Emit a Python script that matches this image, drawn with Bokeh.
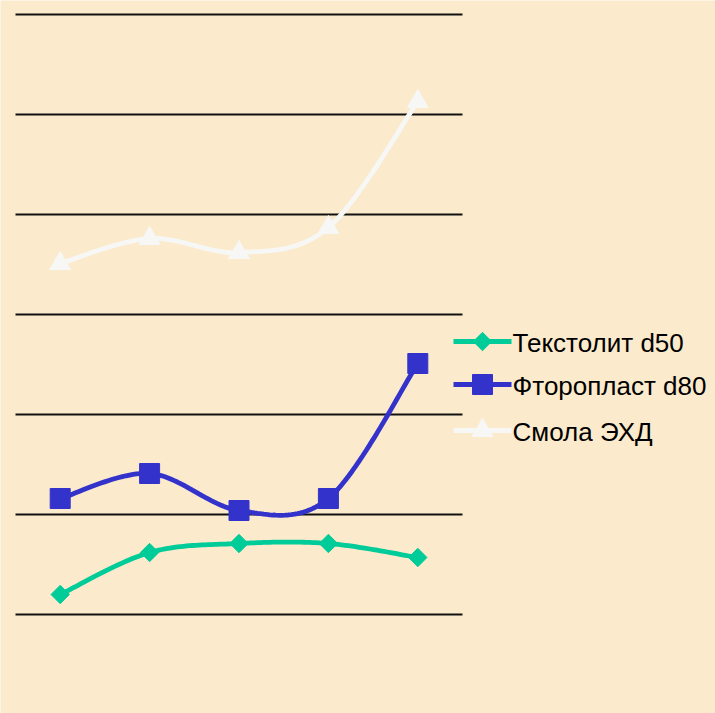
import numpy as np
from bokeh.plotting import figure
from bokeh.models import Range1d
from bokeh.core.properties import value
from bokeh.embed import file_html
from bokeh.resources import INLINE

categories = [1, 2, 3, 4, 5]
tekstolit = [0.20, 0.62, 0.71, 0.71, 0.57]
ftoroplast = [1.16, 1.41, 1.04, 1.16, 2.51]
smola = [3.51, 3.76, 3.62, 3.87, 5.13]
names = ["Текстолит d50", "Фторопласт d80", "Смола ЭХД"]
colors = ["#00CC99", "#3333CC", "#F7F7F5"]
grid_ticks = [0, 1, 2, 3, 4, 5, 6]

BG = "#FBEACB"


def smooth(xs, ys, n=30):
    xs = np.asarray(xs, float)
    ys = np.asarray(ys, float)
    px = np.concatenate([[xs[0]], xs, [xs[-1]]])
    py = np.concatenate([[ys[0]], ys, [ys[-1]]])
    ox, oy = [], []
    for i in range(len(xs) - 1):
        p0x, p1x, p2x, p3x = px[i], px[i + 1], px[i + 2], px[i + 3]
        p0y, p1y, p2y, p3y = py[i], py[i + 1], py[i + 2], py[i + 3]
        c1x = p1x + (p2x - p0x) / 6
        c1y = p1y + (p2y - p0y) / 6
        c2x = p2x - (p3x - p1x) / 6
        c2y = p2y - (p3y - p1y) / 6
        t = np.linspace(0, 1, n)
        bx = (1 - t) ** 3 * p1x + 3 * (1 - t) ** 2 * t * c1x + 3 * (1 - t) * t ** 2 * c2x + t ** 3 * p2x
        by = (1 - t) ** 3 * p1y + 3 * (1 - t) ** 2 * t * c1y + 3 * (1 - t) * t ** 2 * c2y + t ** 3 * p2y
        ox.extend(bx.tolist())
        oy.extend(by.tolist())
    return ox, oy


PXX = 89.4   # pixels per category step
PXY = 100.0  # pixels per unit


def sx(px):
    return 0.5 + (px - 15) / PXX


def sy(py):
    return 6 - (py - 14) / PXY


p = figure(width=715, height=713, output_backend="svg", toolbar_location=None,
           x_range=Range1d(sx(0), sx(715)), y_range=Range1d(sy(713), sy(0)),
           min_border=0)
p.background_fill_color = BG
p.border_fill_color = BG
p.outline_line_color = None
p.xaxis.visible = False
p.yaxis.visible = False
p.xgrid.visible = False
p.ygrid.visible = False

# horizontal grid lines spanning the plot area only
p.segment(x0=[0.5] * len(grid_ticks), x1=[5.5] * len(grid_ticks), y0=grid_ticks, y1=grid_ticks,
          line_color="#111111", line_width=2)


def draw_marker(i, xs, ys, c):
    if i == 0:
        p.scatter(xs, ys, marker="square", angle=np.pi / 4, size=13, fill_color=c, line_color=c)
    elif i == 1:
        p.scatter(xs, ys, marker="square", size=20, fill_color=c, line_color=c)
    else:
        p.scatter(xs, ys, marker="triangle", size=21, fill_color=c, line_color=c)


series = [tekstolit, ftoroplast, smola]
for i, (ys, c) in enumerate(zip(series, colors)):
    cx, cy = smooth(categories, ys)
    p.line(cx, cy, line_color=c, line_width=4.8)
    draw_marker(i, categories, ys, c)

# legend (drawn manually so the diamond keeps its shape)
rows_px = [341, 384, 430]
for i, (name, c, ry) in enumerate(zip(names, colors, rows_px)):
    p.segment(x0=[sx(453)], x1=[sx(511)], y0=[sy(ry)], y1=[sy(ry)], line_color=c, line_width=4.8)
    draw_marker(i, [sx(482)], [sy(ry)], c)
    p.text(x=[sx(512)], y=[sy(ry + 1)], text=[name], text_font=value("Liberation Sans"),
           text_font_size="26px", text_color="black", text_baseline="middle", text_align="left")

open("out.html", "w").write(file_html(p, INLINE))
